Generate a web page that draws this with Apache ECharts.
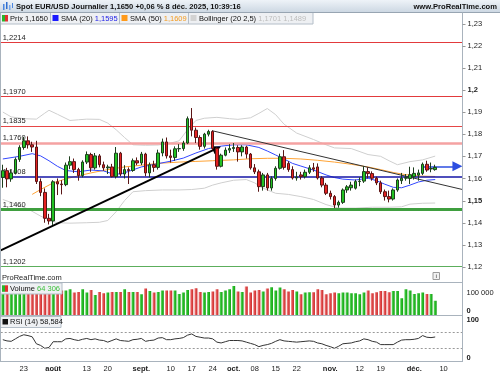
<!DOCTYPE html>
<html><head><meta charset="utf-8">
<script src="https://cdn.jsdelivr.net/npm/echarts@6/dist/echarts.min.js"></script>
<style>html,body{margin:0;padding:0;background:#fff}#c{width:500px;height:375px}</style>
</head><body><div id="c"></div>
<script>
// ---------- DATA ----------
const dates = ['07-16','07-17','07-18','07-21','07-22','07-23','07-24','07-25','07-28','07-29','07-30','07-31',
'08-01','08-04','08-05','08-06','08-07','08-08','08-11','08-12','08-13','08-14','08-15','08-18','08-19','08-20','08-21','08-22','08-25','08-26','08-27','08-28','08-29',
'09-01','09-02','09-03','09-04','09-05','09-08','09-09','09-10','09-11','09-12','09-15','09-16','09-17','09-18','09-19','09-22','09-23','09-24','09-25','09-26','09-29','09-30',
'10-01','10-02','10-03','10-06','10-07','10-08','10-09','10-10','10-13','10-14','10-15','10-16','10-17','10-20','10-21','10-22','10-23','10-24','10-27','10-28','10-29','10-30','10-31',
'11-03','11-04','11-05','11-06','11-07','11-10','11-11','11-12','11-13','11-14','11-17','11-18','11-19','11-20','11-21','11-24','11-25','11-26','11-27','11-28',
'12-01','12-02','12-03','12-04','12-05','12-08','12-09','12-10','12-11','12-12','12-15','12-16'];

const tickDates = ['07-23','08-01','08-13','08-20','09-01','09-10','09-17','09-24','10-01','10-08','10-15','10-22','11-03','11-12','11-19','12-01','12-10'];
const tickTexts = ['23','août','13','20','sept.','10','17','24','oct.','08','15','22','nov.','12','19','déc.','10'];

// [open, close, low, high]
const prices = [
[1.1605,1.1635,1.1558,1.1662],[1.1635,1.1598,1.1560,1.1648],[1.1598,1.1625,1.1585,1.1640],[1.1625,1.1686,1.1618,1.1695],
[1.1686,1.1740,1.1675,1.1750],[1.1740,1.1770,1.1730,1.1788],[1.1770,1.1752,1.1735,1.1790],[1.1752,1.1742,1.1720,1.1766],
[1.1742,1.1586,1.1575,1.1770],[1.1586,1.1537,1.1520,1.1600],[1.1537,1.1420,1.1400,1.1555],[1.1420,1.1408,1.1392,1.1440],
[1.1408,1.1585,1.1390,1.1592],[1.1585,1.1575,1.1525,1.1600],[1.1575,1.1572,1.1528,1.1592],[1.1572,1.1660,1.1565,1.1672],
[1.1660,1.1676,1.1642,1.1700],[1.1676,1.1640,1.1625,1.1690],[1.1640,1.1613,1.1590,1.1648],[1.1613,1.1674,1.1605,1.1682],
[1.1674,1.1708,1.1665,1.1722],[1.1708,1.1648,1.1630,1.1716],[1.1648,1.1702,1.1640,1.1715],[1.1702,1.1662,1.1650,1.1710],
[1.1662,1.1648,1.1635,1.1676],[1.1648,1.1652,1.1620,1.1662],[1.1652,1.1608,1.1605,1.1666],[1.1608,1.1714,1.1600,1.1742],
[1.1714,1.1620,1.1610,1.1720],[1.1620,1.1640,1.1600,1.1660],[1.1640,1.1636,1.1575,1.1650],[1.1636,1.1680,1.1630,1.1690],
[1.1680,1.1670,1.1660,1.1695],[1.1670,1.1710,1.1660,1.1720],[1.1710,1.1625,1.1610,1.1716],[1.1625,1.1662,1.1605,1.1672],
[1.1662,1.1650,1.1630,1.1680],[1.1650,1.1715,1.1640,1.1730],[1.1715,1.1765,1.1700,1.1780],[1.1765,1.1702,1.1690,1.1785],
[1.1702,1.1695,1.1672,1.1730],[1.1695,1.1734,1.1680,1.1745],[1.1734,1.1735,1.1720,1.1755],[1.1735,1.1760,1.1725,1.1770],
[1.1760,1.1870,1.1755,1.1880],[1.1870,1.1818,1.1790,1.1918],[1.1818,1.1785,1.1760,1.1830],[1.1785,1.1745,1.1730,1.1795],
[1.1745,1.1800,1.1735,1.1806],[1.1800,1.1812,1.1790,1.1820],[1.1812,1.1736,1.1728,1.1818],[1.1736,1.1655,1.1640,1.1740],
[1.1655,1.1705,1.1650,1.1712],[1.1705,1.1728,1.1700,1.1740],[1.1728,1.1735,1.1715,1.1755],[1.1735,1.1740,1.1720,1.1760],
[1.1740,1.1720,1.1676,1.1750],[1.1720,1.1742,1.1700,1.1750],[1.1742,1.1710,1.1690,1.1748],[1.1710,1.1648,1.1640,1.1715],
[1.1648,1.1630,1.1620,1.1665],[1.1630,1.1563,1.1540,1.1640],[1.1563,1.1616,1.1545,1.1625],[1.1616,1.1557,1.1545,1.1625],
[1.1557,1.1600,1.1545,1.1610],[1.1600,1.1646,1.1590,1.1655],[1.1646,1.1698,1.1640,1.1712],[1.1698,1.1650,1.1640,1.1728],
[1.1668,1.1640,1.1630,1.1678],[1.1640,1.1602,1.1595,1.1655],[1.1602,1.1606,1.1590,1.1630],[1.1616,1.1608,1.1595,1.1630],
[1.1608,1.1628,1.1600,1.1640],[1.1628,1.1648,1.1620,1.1660],[1.1648,1.1642,1.1630,1.1670],[1.1652,1.1602,1.1595,1.1668],
[1.1602,1.1570,1.1560,1.1610],[1.1570,1.1533,1.1525,1.1580],[1.1533,1.1518,1.1505,1.1545],[1.1518,1.1480,1.1466,1.1525],
[1.1480,1.1492,1.1468,1.1500],[1.1492,1.1548,1.1485,1.1555],[1.1548,1.1562,1.1535,1.1570],[1.1558,1.1570,1.1545,1.1585],
[1.1556,1.1586,1.1550,1.1595],[1.1586,1.1588,1.1565,1.1605],[1.1588,1.1631,1.1580,1.1655],[1.1631,1.1622,1.1600,1.1650],
[1.1622,1.1601,1.1590,1.1632],[1.1601,1.1580,1.1570,1.1608],[1.1580,1.1540,1.1530,1.1590],[1.1540,1.1518,1.1500,1.1550],
[1.1518,1.1507,1.1492,1.1545],[1.1507,1.1548,1.1500,1.1555],[1.1548,1.1593,1.1540,1.1600],[1.1590,1.1601,1.1575,1.1625],
[1.1601,1.1604,1.1590,1.1620],[1.1600,1.1617,1.1575,1.1653],[1.1608,1.1623,1.1595,1.1650],[1.1615,1.1625,1.1590,1.1640],
[1.1623,1.1664,1.1615,1.1672],[1.1664,1.1638,1.1630,1.1680],[1.1643,1.1645,1.1628,1.1672],[1.1640,1.1650,1.1635,1.1662]
];

// volume in thousands
const volumes = [108,112,100,105,118,115,110,120,126,122,118,112,124,110,
110.6,110.6,116.7,101.5,104.5,116.7,101.5,113.6,90.9,104.5,98.5,101.5,104.5,104.5,104.5,116.7,104.5,104.5,104.5,93.9,119.7,109.1,101.5,104.5,110.6,110.6,110.6,110.6,95.5,101.5,113.6,116.7,121.2,104.5,101.5,104.5,106.1,116.7,104.5,110.6,116.7,131.8,106.1,104.5,128.8,
101.5,110.6,113.6,106.1,119.7,125.8,110.6,124.2,116.7,106.1,113.6,106.1,93.9,101.5,103,103,116.7,113.6,93.9,98.5,101.5,98.5,101.5,101.5,98.5,98.5,93.9,101.5,110.6,98.5,103,109.1,109.1,103,109.1,109.1,75.8,116.7,110.6,95.5,98.5,101.5,95.5,95.5,64.306];

const rsi = [52,49,48,54,60,64,62,59,42,38, 31,33,47,47,47,54,55,52,50,53, 55,52,54,51,50,46,50,54,50,49,
48,52,53,55,48,50,51,56,57,52, 52,54,55,57,63,66,60,58,56,56, 54,46,44,47,50,50,50,49,46,43,
40,35,38,40,43,48,52,49,48,47, 46,47,48,49,48,44,42,38,35,31, 36,42,43,44,47,49,54,52,48,46,
40,40,40,40,46,51,52,52,53,55, 62,58,57,58.584];

// [barIndex, value]
const sma20 = [[0,1.1688],[4,1.1700],[7,1.1712],[9,1.1702],[11,1.1680],[13,1.1655],[15,1.1636],[18,1.1630],[21,1.1638],[24,1.1634],[26,1.1622],[28,1.1620],[30,1.1632],[33,1.1652],[37,1.1667],[40,1.1678],[43,1.1692],[46,1.1715],[49,1.1735],[52,1.1746],[55,1.1752],[58,1.1752],[61,1.1740],[63,1.1724],[65,1.1706],[67,1.1688],[69,1.1668],[71,1.1656],[73,1.1644],[75,1.1631],[77,1.1616],[79,1.1604],[81,1.1597],[84,1.1593],[87,1.1601],[89,1.1590],[91,1.1574],[93,1.1560],[95,1.1558],[97,1.1570],[99,1.1584],[101,1.1592],[103,1.1595]];
const sma50 = [[7,1.1528],[9,1.1550],[12,1.1580],[15,1.1598],[18,1.1612],[21,1.1625],[25,1.1640],[29,1.1652],[33,1.1660],[37,1.1668],[42,1.1674],[46,1.1677],[50,1.1680],[55,1.1684],[59,1.1689],[63,1.1691],[67,1.1691],[71,1.1688],[75,1.1682],[79,1.1674],[83,1.1664],[87,1.1652],[90,1.1640],[93,1.1627],[96,1.1617],[99,1.1611],[103,1.1609]];
const bollUp = [[0,1.1900],[2,1.1878],[5,1.1870],[8,1.1868],[10,1.1895],[11,1.1908],[13,1.1890],[16,1.1862],[18,1.1865],[20,1.1868],[23,1.1867],[25,1.1850],[27,1.1820],[29,1.1785],[31,1.1752],[34,1.1750],[37,1.1751],[40,1.1760],[42,1.1770],[44,1.1820],[46,1.1862],[48,1.1872],[51,1.1876],[54,1.1870],[56,1.1867],[59,1.1874],[61,1.1894],[63,1.1916],[65,1.1888],[67,1.1845],[70,1.1805],[74,1.1776],[77,1.1752],[79,1.1738],[83,1.1735],[87,1.1708],[90,1.1700],[92,1.1680],[94,1.1662],[97,1.1676],[100,1.1684],[103,1.1701]];
const bollLow = [[0,1.1505],[3,1.1485],[6,1.1462],[9,1.1430],[11,1.1412],[13,1.1400],[16,1.1398],[20,1.1400],[23,1.1402],[25,1.1410],[27,1.1450],[29,1.1500],[31,1.1540],[34,1.1545],[38,1.1548],[42,1.1548],[45,1.1550],[48,1.1556],[50,1.1570],[52,1.1580],[55,1.1592],[58,1.1595],[60,1.1580],[62,1.1556],[65,1.1533],[68,1.1528],[71,1.1518],[74,1.1505],[77,1.1482],[80,1.1466],[84,1.1466],[88,1.1470],[92,1.1470],[95,1.1472],[97,1.1484],[100,1.1488],[103,1.1489]];

const trendUp = [[-0.5,1.1275],[51,1.1736]];
const trendDown = [[50,1.1815],[109.5,1.1550]];
const priceArrow = [[100,1.1655],[108.3,1.1655]];

const levelValues = [1.2214,1.1970,1.1835,1.1760,1.1608,1.1460,1.1202];
const levelLabels = ['1,2214','1,1970','1,1835','1,1760','1,1608','1,1460','1,1202'];
const priceTicks = [1.12,1.13,1.14,1.15,1.16,1.17,1.18,1.19,1.20,1.21,1.22,1.23];
const lastPrice = 1.1650, lastVolume = 64.306, lastRsi = 58.584;

// ---------- STYLES ----------
const levelStyles = [
 {c:'#e23a3c',w:1},{c:'#e23a3c',w:1},{c:'#e64646',w:1},{c:'#f5a2a2',w:2.5},
 {c:'#1515a6',w:1.5},{c:'#3f9f3f',w:3},{c:'#5cae5c',w:1}];
const FONT = '"Liberation Sans", Arial, sans-serif';
const GL = 0.7, GW = 461.8;

const fmtPrice = v => String(+v.toFixed(2)).replace('.', ',');

function txt(x,y,text,opts){return {type:'text',x:x,y:y,z:100,style:Object.assign({text:text,fill:'#111',fontSize:7.5,fontFamily:FONT,align:'left',verticalAlign:'middle'},opts||{})};}
function rect(x,y,w,h,fill,stroke){return {type:'rect',z:99,shape:{x:x,y:y,width:w,height:h},style:{fill:fill,stroke:stroke||null,lineWidth:1}};}
function ln(x1,y1,x2,y2,color,w){return {type:'line',z:100,shape:{x1:x1,y1:y1,x2:x2,y2:y2},style:{stroke:color,lineWidth:w||1}};}

const greenGrad = new echarts.graphic.LinearGradient(0,0,1,0,[{offset:0,color:'#7edc7e'},{offset:0.45,color:'#26bf26'},{offset:1,color:'#1a9c1a'}]);
const redGrad = new echarts.graphic.LinearGradient(0,0,1,0,[{offset:0,color:'#f2a0a0'},{offset:0.45,color:'#e24c4c'},{offset:1,color:'#c62c2c'}]);

const volData = volumes.map((v,i)=>({value:v,itemStyle:{color: prices[i][1]>=prices[i][0]?greenGrad:redGrad}}));

const richK = {fill:'#111',fontSize:7.5,fontFamily:FONT};
const frame = '#a9b3bd';

const chart = echarts.init(document.getElementById('c'));
const graphics = [
  {type:'rect',z:98,shape:{x:0,y:0,width:500,height:12},style:{fill:new echarts.graphic.LinearGradient(0,0,0,1,[{offset:0,color:'#eef3f8'},{offset:1,color:'#cdd8e3'}])}},
  ln(0,12.5,500,12.5,'#98a5b2'),
  rect(3,4,1.5,6,'#4a86e0'),rect(6,2,1.5,7,'#2f6fd0'),rect(9,5,1.5,5,'#7aa8ea'),rect(12,3,1,5,'#4a86e0'),
  txt(16,6.5,'Spot EUR/USD Journalier 1,1650 +0,06 % 8 déc. 2025, 10:39:16',{fontWeight:'bold',fontSize:7.6}),
  txt(497,6.5,'www.ProRealTime.com',{fontWeight:'bold',align:'right',fontSize:7.6}),
  rect(0.5,12.5,50,11.5,'#eef0f3','#b4bec8'),
  rect(50.5,12.5,69,11.5,'#eef0f3','#b4bec8'),
  rect(119.5,12.5,69,11.5,'#eef0f3','#b4bec8'),
  rect(188.5,12.5,124.5,11.5,'#eef0f3','#b4bec8'),
  rect(2,15,3,6.5,'#2ab52a'),rect(5,15,3,6.5,'#e23030'),
  rect(52.5,15,6,6,'#1a1aff'),rect(121.5,15,6,6,'#ff9a1a'),rect(190.5,15,6,6,'#d2d2d2'),
  txt(10,18.5,'Prix 1,1650'),
  txt(61,18.5,'{k|SMA (20) }{b|1,1595}',{rich:{k:richK,b:{fill:'#2222e6',fontSize:7.5,fontFamily:FONT}}}),
  txt(130,18.5,'{k|SMA (50) }{o|1,1609}',{rich:{k:richK,o:{fill:'#f39a1e',fontSize:7.5,fontFamily:FONT}}}),
  txt(199,18.5,'{k|Bollinger (20 2,5) }{g|1,1701 1,1489}',{rich:{k:richK,g:{fill:'#bdbdbd',fontSize:7.5,fontFamily:FONT}}}),
  txt(2,277.5,'ProRealTime.com',{fill:'#222'}),
  rect(433,272.5,6.5,7,'#f2f2f2','#9a9a9a'),
  txt(436.3,276.2,'i',{align:'center',fill:'#777',fontSize:6,fontWeight:'bold'}),
  rect(0.5,283,61.5,11,'#eef0f3','#b4bec8'),
  rect(2,285.3,3,6.5,'#2ab52a'),rect(5,285.3,3,6.5,'#e23030'),
  txt(10,288.7,'{k|Volume }{g|64 306}',{rich:{k:richK,g:{fill:'#3cc03c',fontSize:7.5,fontFamily:FONT}}}),
  rect(0.5,316.5,60.5,11,'#eef0f3','#b4bec8'),
  rect(2.5,319,5.5,5.5,'#111'),
  txt(10,322.2,'RSI (14) 58,584'),
  ln(0.5,12.5,0.5,362,frame),
  ln(462.5,12.5,462.5,362,frame),
  ln(0,282.5,462.5,282.5,frame),
  ln(0,315.5,462.5,315.5,frame),
  ln(0,361.5,462.5,361.5,frame)
];

chart.setOption({
 animation:false,
 textStyle:{fontFamily:FONT},
 grid:[
  {left:GL,width:GW,top:23.5,height:243.5},
  {left:GL,width:GW,top:283,height:32},
  {left:GL,width:GW,top:320,height:41}
 ],
 xAxis:[
  {type:'category',gridIndex:0,data:dates,show:false},
  {type:'value',gridIndex:0,min:-0.5,max:109.5,show:false},
  {type:'category',gridIndex:1,data:dates,show:false},
  {type:'category',gridIndex:2,data:dates,axisLine:{show:false},axisTick:{show:false},
   axisLabel:{margin:4,fontSize:7.5,color:'#222',
    interval:(i,v)=>tickDates.indexOf(v)>=0,
    formatter:(v)=>{const k=tickDates.indexOf(v); if(k<0) return ''; const t=tickTexts[k]; return /^[0-9]+$/.test(t)?t:'{b|'+t+'}';},
    rich:{b:{fontWeight:'bold',fontSize:7.5,color:'#222'}}}}
 ],
 yAxis:[
  {type:'value',gridIndex:0,position:'right',min:1.12,max:1.23,interval:0.01,
   axisLine:{show:false},axisTick:{show:false},splitLine:{show:false},
   axisLabel:{margin:5,fontSize:7.5,color:'#222',
    formatter:(v)=>{const s=fmtPrice(v); return (Math.abs(v-1.2)<1e-7||Math.abs(v-1.15)<1e-7)?'{b|'+s+'}':s;},
    rich:{b:{fontWeight:'bold',fontSize:7.5,color:'#222'}}}},
  {type:'value',gridIndex:1,position:'right',min:0,max:145,interval:100,
   axisLine:{show:false},axisTick:{show:false},splitLine:{show:false},
   axisLabel:{margin:4,fontSize:7.5,color:'#222',
    formatter:(v)=>v===100?'100 000':(v===0?'{z|0}':''),
    rich:{z:{fontSize:7.5,fontWeight:'bold',color:'#222',padding:[0,0,8,0]}}}},
  {type:'value',gridIndex:2,position:'right',min:0,max:100,interval:100,
   axisLine:{show:false},axisTick:{show:false},splitLine:{show:false},
   axisLabel:{margin:4,fontSize:7.5,color:'#222',fontWeight:'bold',
    formatter:(v)=>v===0?'{z|0}':String(v),
    rich:{z:{fontSize:7.5,fontWeight:'bold',color:'#222',padding:[0,0,7,0]}}}}
 ],
 series:[
  {type:'line',name:'levels',xAxisIndex:0,yAxisIndex:0,data:[],z:1,
   markLine:{silent:true,symbol:'none',animation:false,precision:4,
    data:levelValues.map((v,i)=>({yAxis:v,lineStyle:{color:levelStyles[i].c,width:levelStyles[i].w,type:'solid'},
     label:{show:true,position:'insideStartTop',distance:[2,1],formatter:levelLabels[i],color:'#222',fontSize:7.5,fontFamily:FONT}}))}},
  {type:'line',name:'bollUp',xAxisIndex:1,yAxisIndex:0,data:bollUp,symbol:'none',z:2,lineStyle:{color:'#cfcfcf',width:1}},
  {type:'line',name:'bollLow',xAxisIndex:1,yAxisIndex:0,data:bollLow,symbol:'none',z:2,lineStyle:{color:'#cfcfcf',width:1}},
  {type:'line',name:'sma50',xAxisIndex:1,yAxisIndex:0,data:sma50,symbol:'none',z:3,lineStyle:{color:'#ffa335',width:1}},
  {type:'line',name:'sma20',xAxisIndex:1,yAxisIndex:0,data:sma20,symbol:'none',z:3,lineStyle:{color:'#3347ff',width:1}},
  {type:'candlestick',name:'Prix',xAxisIndex:0,yAxisIndex:0,data:prices,barWidth:3,z:5,
   itemStyle:{color:'#22c222',color0:'#e52222',borderColor:'#1d3f1d',borderColor0:'#5a1515',borderWidth:1},
   markLine:{silent:true,symbol:'none',precision:4,data:[{yAxis:lastPrice,lineStyle:{opacity:0},
    label:{show:true,position:'end',distance:3,formatter:'1,1650',color:'#111',fontWeight:'bold',fontSize:8,fontFamily:FONT,
     backgroundColor:'#f3c400',borderColor:'#8c7400',borderWidth:1,padding:[1,2,1,2]}}]}},
  {type:'line',name:'trends',xAxisIndex:1,yAxisIndex:0,data:[],z:6,
   markLine:{silent:true,animation:false,precision:4,
    data:[
     [{coord:trendUp[0],symbol:'none',lineStyle:{color:'#000',width:2,type:'solid'}},{coord:trendUp[1],symbol:'triangle',symbolSize:9}],
     [{coord:trendDown[0],symbol:'none',lineStyle:{color:'#333',width:1,type:'solid'}},{coord:trendDown[1],symbol:'none'}],
     [{coord:priceArrow[0],symbol:'none',lineStyle:{color:'#2d4ee0',width:1.5,type:'solid'}},{coord:priceArrow[1],symbol:'triangle',symbolSize:10}]
    ],label:{show:false}}},
  {type:'bar',name:'Volume',xAxisIndex:2,yAxisIndex:1,data:volData,barWidth:3,z:2,
   markLine:{silent:true,symbol:'none',precision:4,data:[{yAxis:lastVolume,lineStyle:{opacity:0},
    label:{show:true,position:'end',distance:3,formatter:'64 306',color:'#33b833',fontSize:7.5,fontFamily:FONT,
     backgroundColor:'#fff',borderColor:'#b5b5b5',borderWidth:1,padding:[1,1,0,1]}}]}},
  {type:'line',name:'RSI',xAxisIndex:3,yAxisIndex:2,data:rsi,symbol:'none',z:3,lineStyle:{color:'#333',width:1},
   markLine:{silent:true,symbol:'none',precision:4,data:[
    {yAxis:70,lineStyle:{color:'#999',width:1,type:[2,2]},label:{show:false}},
    {yAxis:30,lineStyle:{color:'#999',width:1,type:[2,2]},label:{show:false}},
    {yAxis:lastRsi,lineStyle:{opacity:0},label:{show:true,position:'end',distance:3,formatter:'58,584',color:'#222',fontSize:7.5,fontFamily:FONT,
     backgroundColor:'#fff',borderColor:'#999',borderWidth:1,padding:[1,1,0,1]}}]}}
 ],
 graphic:graphics
});

// right-hand price ticks, positioned by the library's own y scale
const tickMarks = priceTicks.map(v => {
  const y = Math.round(chart.convertToPixel({yAxisIndex:0}, v)) + 0.5;
  return ln(462.5, y, 465.5, y, '#999');
});
chart.setOption({graphic: graphics.concat(tickMarks)});
</script></body></html>
